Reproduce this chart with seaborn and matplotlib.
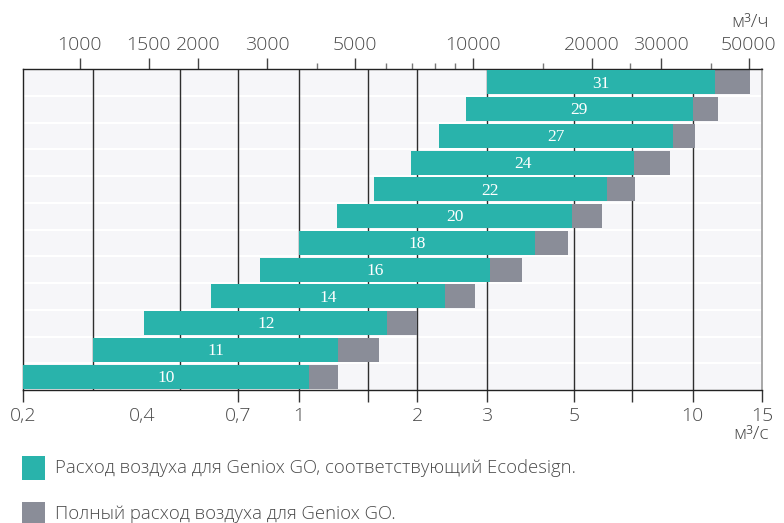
import matplotlib
matplotlib.use("Agg")
import matplotlib.pyplot as plt
from matplotlib.patches import Rectangle
from matplotlib.ticker import FixedLocator, FixedFormatter, NullFormatter
import seaborn as sns
import pandas as pd

# Unit sizes, top to bottom
sizes = ["31", "29", "27", "24", "22", "20", "18", "16", "14", "12", "11", "10"]
# Ecodesign-compliant airflow range, m³/s
eco_start = [3.0, 2.66, 2.27, 1.93, 1.55, 1.25, 1.0, 0.80, 0.60, 0.405, 0.30, 0.19]
eco_end = [11.4, 10.0, 8.9, 7.1, 6.05, 4.95, 3.98, 3.06, 2.35, 1.68, 1.26, 1.06]
# Full airflow limit, m³/s
max_end = [14.0, 11.6, 10.15, 8.75, 7.15, 5.9, 4.83, 3.69, 2.8, 2.0, 1.6, 1.26]

grid_vals = [0.3, 0.5, 0.7, 1, 1.5, 2, 3, 5, 7, 10]
bottom_ticks = [0.2, 0.7, 1, 1.5, 2, 3, 5, 7, 10, 15]
bottom_labels = ["0,2", "0,7", "1", "", "2", "3", "5", "", "10", "15"]
bottom_minor = [0.4]
bottom_minor_labels = ["0,4"]
top_ticks = [1000, 1500, 2000, 3000, 5000, 10000, 20000, 30000, 50000]
top_minor = [4000, 6000, 7000, 8000, 9000, 15000, 25000, 40000]

legend_labels = ["Расход воздуха для Geniox GO, соответствующий Ecodesign.",
                 "Полный расход воздуха для Geniox GO."]

TEAL = "#29b3ab"
GREY = "#8a8d98"
BG = "#f6f6f9"
TXT = "#4a4a4a"

sns.set_style("white")
plt.rcParams["font.family"] = ["Open Sans", "DejaVu Sans"]
plt.rcParams["font.weight"] = 300

df = pd.DataFrame({"size": sizes, "start": eco_start, "eco": eco_end, "full": max_end})

fig = plt.figure(figsize=(7.84, 5.23), dpi=100)
ax = fig.add_axes([23.3 / 784, 1 - 390 / 523, (762 - 23.3) / 784, (390 - 69) / 523])
ax.set_xscale("log")
ax.set_facecolor(BG)

sns.barplot(data=df, x="full", y="size", order=sizes, orient="y", color=GREY,
            saturation=1, width=0.9, errorbar=None, ax=ax, zorder=2)
sns.barplot(data=df, x="eco", y="size", order=sizes, orient="y", color=TEAL,
            saturation=1, width=0.9, errorbar=None, ax=ax, zorder=3)

# Float every bar from the start of its range
for cont in ax.containers:
    for patch, s in zip(cont.patches, df["start"]):
        end = patch.get_x() + patch.get_width()
        patch.set_x(s)
        patch.set_width(end - s)
        patch.set_linewidth(0)

# Size labels at the centre of the Ecodesign range
for i, (s, e, name) in enumerate(zip(eco_start, eco_end, sizes)):
    xc = max(s, 0.2) * (e / max(s, 0.2)) ** 0.5
    ax.text(xc, i + 0.05, name, ha="center", va="center", color="white",
            fontsize=12.5, fontweight="normal",
            family=["Liberation Serif", "DejaVu Serif"], zorder=4)

ax.set_xlim(0.2, 15)
ax.set_ylim(len(sizes) - 0.5, -0.5)

for i in range(len(sizes) - 1):
    ax.axhline(i + 0.5, color="white", lw=1.6, zorder=0.5)
for v in grid_vals:
    ax.axvline(v, color="#2e2e2e", lw=1.0, zorder=1)

ax.set_xlabel("")
ax.set_ylabel("")
ax.set_yticks([])

ax.xaxis.set_major_locator(FixedLocator(bottom_ticks))
ax.xaxis.set_major_formatter(FixedFormatter(bottom_labels))
ax.xaxis.set_minor_locator(FixedLocator(bottom_minor))
ax.xaxis.set_minor_formatter(FixedFormatter(bottom_minor_labels))
ax.tick_params(axis="x", which="major", bottom=True, length=8.4, width=1,
               color="#333333", labelsize=14, labelcolor=TXT, pad=3.5)
ax.tick_params(axis="x", which="minor", bottom=True, length=0,
               labelsize=14, labelcolor=TXT, pad=11.9)

for side in ["left", "bottom", "top"]:
    ax.spines[side].set_color("#222222")
    ax.spines[side].set_linewidth(1.0)
    ax.spines[side].set_visible(True)
ax.spines["right"].set_visible(True)
ax.spines["right"].set_color("#9a9a9a")
ax.spines["right"].set_linewidth(1.2)

# Hourly airflow scale on top
sec = ax.secondary_xaxis("top", functions=(lambda x: x * 3600, lambda x: x / 3600))
sec.xaxis.set_major_locator(FixedLocator(top_ticks))
sec.xaxis.set_major_formatter(FixedFormatter([str(t) for t in top_ticks]))
sec.xaxis.set_minor_locator(FixedLocator(top_minor))
sec.xaxis.set_minor_formatter(NullFormatter())
sec.tick_params(axis="x", which="major", length=8, width=1, color="#444444",
                labelsize=14, labelcolor=TXT, pad=2.5)
sec.tick_params(axis="x", which="minor", length=4.5, width=1, color="#777777")
sec.spines["top"].set_visible(False)

fig.text(769 / 784, 1 - 22 / 523, "м³/ч", ha="right", va="center",
         fontsize=14, color=TXT)
fig.text(769 / 784, 1 - 434 / 523, "м³/с", ha="right", va="center",
         fontsize=14, color=TXT)

# Legend
for (y0, col, lab) in [(456, TEAL, legend_labels[0]), (502, GREY, legend_labels[1])]:
    fig.patches.append(Rectangle((22 / 784, 1 - (y0 + 24) / 523), 23 / 784, 24 / 523,
                                 transform=fig.transFigure, facecolor=col,
                                 edgecolor="none"))
    fig.text(55 / 784, 1 - (y0 + 12) / 523, lab, ha="left", va="center",
             fontsize=13.3, color=TXT)

fig.savefig("out.png", dpi=100)
